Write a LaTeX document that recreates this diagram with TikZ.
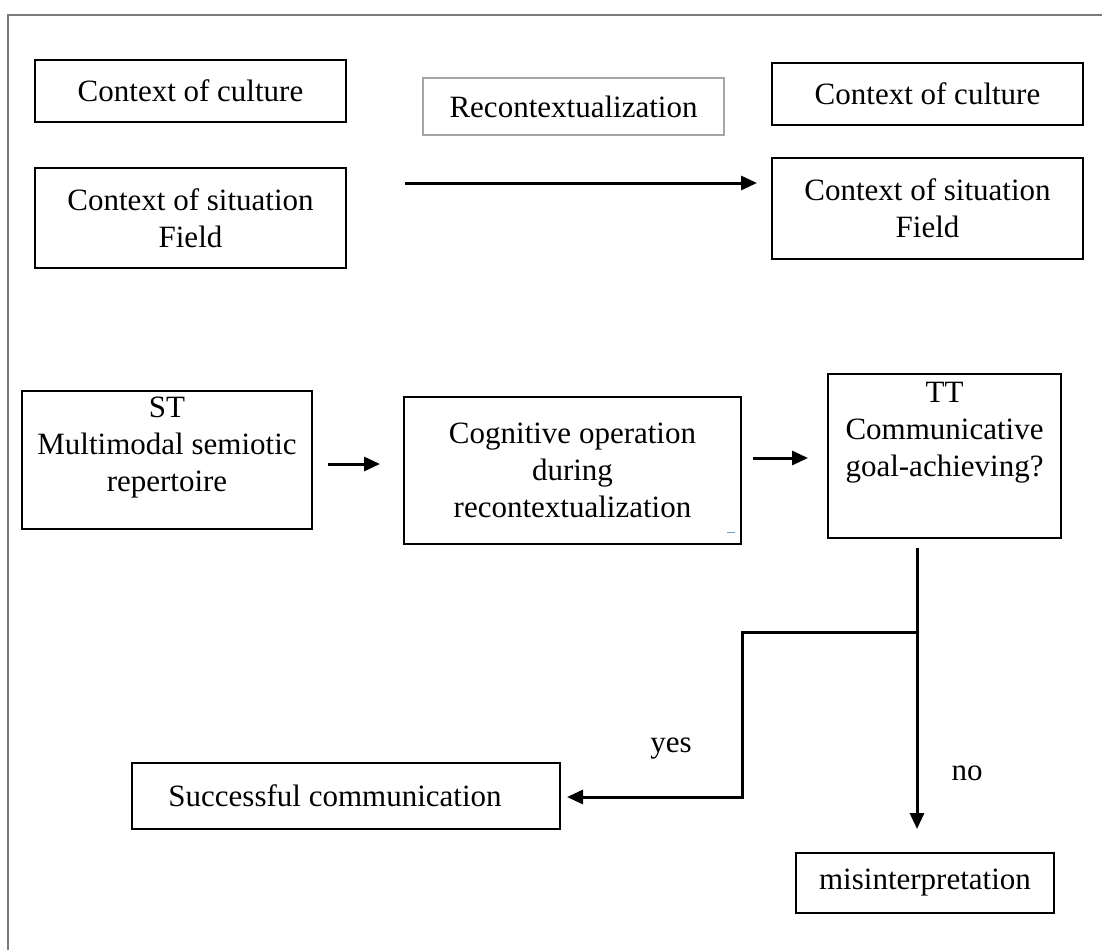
\documentclass[tikz,border=0pt]{standalone}
\usepackage{fontspec}
\setmainfont{Liberation Serif}
\usetikzlibrary{arrows.meta}
\definecolor{framegray}{HTML}{7A7A7A}
\definecolor{reconframe}{HTML}{A6A6A6}
\definecolor{markblue}{HTML}{7896D2}
\begin{document}
\begin{tikzpicture}[x=1pt,y=-1pt,
  txt/.style={font=\fontsize{31}{37}\selectfont, align=center, inner sep=0pt},
  box/.style={draw=black, line width=1.6pt, inner sep=0pt},
  flow/.style={line width=3pt, -{Triangle[length=16pt,width=14pt]}},
  link/.style={line width=3pt}]
\useasboundingbox (0,0) rectangle (1102,950);
% page frame
\draw[framegray, line width=2.4pt] (8,950) -- (8,15) -- (1102,15);

% upper row: source and target contexts
\node[box, txt, minimum width=311pt, minimum height=62pt] (cc1) at (190.5,91) {Context of culture};
\node[box, txt, minimum width=311pt, minimum height=100pt] (cs1) at (190.5,218) {Context of situation\\Field};
\node[txt, draw=reconframe, line width=2.6pt, minimum width=301pt, minimum height=57pt] (recon) at (573.5,106.5) {Recontextualization};
\node[box, txt, minimum width=311pt, minimum height=62pt] (cc2) at (927.5,94) {Context of culture};
\node[box, txt, minimum width=311pt, minimum height=101pt] (cs2) at (927.5,208.5) {Context of situation\\Field};

\coordinate (ra) at (405,183);
\coordinate (rb) at (757,183);
\draw[flow] (ra) -- (rb);

% middle row: translation process
\node[box, minimum width=290pt, minimum height=138pt] (st) at (167,460) {};
\node[txt] (stl) at (167,448) {ST\\Multimodal semiotic\\repertoire};
\node[box, txt, minimum width=337pt, minimum height=147pt] (cog) at (572.5,470.5) {Cognitive operation\\during\\recontextualization};
\node[box, minimum width=233pt, minimum height=164pt] (tt) at (944.5,456) {};
\node[txt] (ttl) at (944.5,433) {TT\\Communicative\\goal-achieving?};
\draw[markblue, line width=1pt] (727,532) -- (735,532);

\coordinate (sa) at (328,464);
\coordinate (sb) at (380,464);
\draw[flow] (sa) -- (sb);
\coordinate (ca) at (753,458);
\coordinate (cb) at (808,458);
\draw[flow] (ca) -- (cb);

% lower row: outcomes
\node[box, minimum width=428pt, minimum height=66pt] (succ) at (346,796) {};
\node[txt] (succl) at (335,796) {Successful communication};
\node[box, txt, minimum width=258pt, minimum height=60pt] (mis) at (925,883) {misinterpretation};

\coordinate (ttout) at (917,548);
\coordinate (split) at (917,632);
\coordinate (noend) at (917,829);
\coordinate (bend) at (742,632);
\coordinate (bend2) at (742,797);
\coordinate (yesend) at (567,797);
\draw[flow] (ttout) -- (noend);
\draw[flow, line join=miter] (split) -- (bend) -- (bend2) -- (yesend);

\node[txt, anchor=base] (yes) at (671,752) {yes};
\node[txt, anchor=base] (no) at (967,780) {no};
\end{tikzpicture}
\end{document}
